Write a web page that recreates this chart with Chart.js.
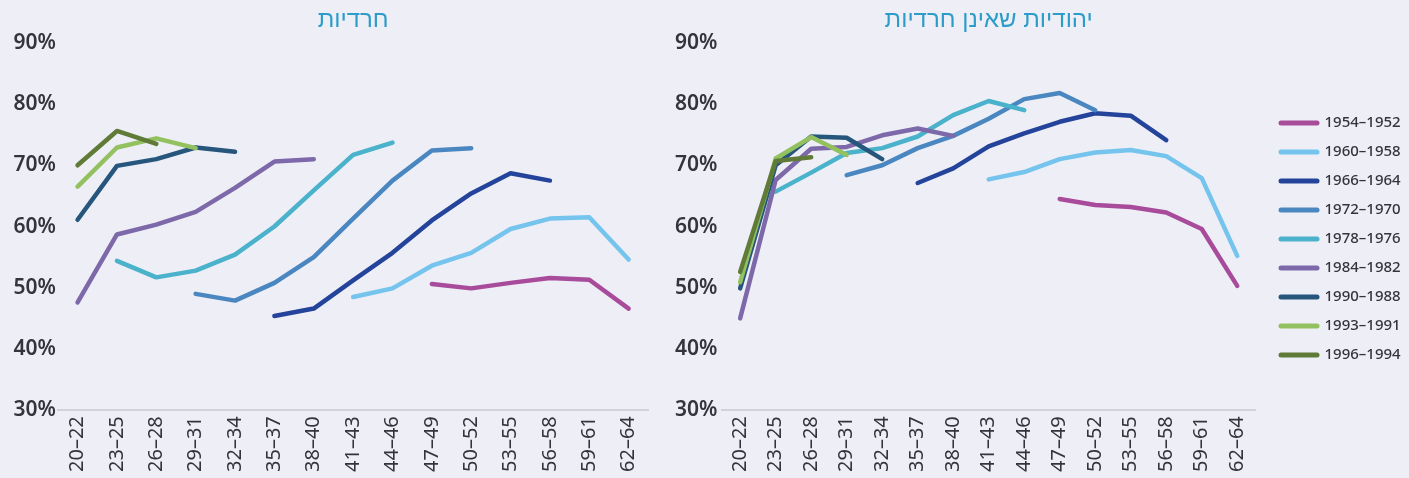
<!DOCTYPE html>
<html lang="he">
<head>
<meta charset="utf-8">
<script src="https://cdn.jsdelivr.net/npm/chart.js@4.4.1/dist/chart.umd.min.js"></script>
<style>
  html, body { margin: 0; padding: 0; background: #eeeef6; }
  #wrap { position: relative; width: 1409px; height: 478px; }
  #wrap canvas { position: absolute; top: 0; }
  #chartLeft { left: 0; }
  #chartRight { left: 655px; }
</style>
</head>
<body>
<div id="wrap">
  <canvas id="chartLeft" width="659" height="478"></canvas>
  <canvas id="chartRight" width="754" height="478"></canvas>
</div>
<script>
// age groups on the x axis
const ageGroups = ["20–22", "23–25", "26–28", "29–31", "32–34", "35–37", "38–40", "41–43",
                   "44–46", "47–49", "50–52", "53–55", "56–58", "59–61", "62–64"];
const cohorts = ["1954–1952", "1960–1958", "1966–1964", "1972–1970", "1978–1976",
                 "1984–1982", "1990–1988", "1993–1991", "1996–1994"];
const cohortColors = ["#a94b9b", "#74c4ed", "#23449a", "#4a87c1", "#4ab2ca",
                      "#7d69a9", "#27567d", "#93c160", "#5f7b37"];
const yTicks = [30, 40, 50, 60, 70, 80, 90];

// חרדיות (percent, one value per age group)
const haredi52 = [null, null, null, null, null, null, null, null, null, 50.6, 49.9, 50.8, 51.6, 51.3, 46.6];
const haredi58 = [null, null, null, null, null, null, null, 48.5, 49.9, 53.6, 55.7, 59.6, 61.3, 61.5, 54.6];
const haredi64 = [null, null, null, null, null, 45.4, 46.6, 51.2, 55.7, 61.0, 65.4, 68.7, 67.5, null, null];
const haredi70 = [null, null, null, 49.0, 47.9, 50.8, 55.0, 61.3, 67.5, 72.4, 72.8, null, null, null, null];
const haredi76 = [null, 54.4, 51.7, 52.8, 55.4, 60.0, 65.9, 71.7, 73.7, null, null, null, null, null, null];
const haredi82 = [47.6, 58.7, 60.3, 62.4, 66.3, 70.6, 71.0, null, null, null, null, null, null, null, null];
const haredi88 = [61.1, 69.9, 71.0, 72.9, 72.2, null, null, null, null, null, null, null, null, null, null];
const haredi91 = [66.5, 72.9, 74.4, 72.8, null, null, null, null, null, null, null, null, null, null, null];
const haredi94 = [70.0, 75.6, 73.5, null, null, null, null, null, null, null, null, null, null, null, null];

// יהודיות שאינן חרדיות
const other52 = [null, null, null, null, null, null, null, null, null, 64.5, 63.5, 63.2, 62.3, 59.6, 50.3];
const other58 = [null, null, null, null, null, null, null, 67.7, 68.9, 71.0, 72.1, 72.5, 71.5, 67.9, 55.2];
const other64 = [null, null, null, null, null, 67.1, 69.5, 73.1, 75.2, 77.1, 78.5, 78.1, 74.1, null, null];
const other70 = [null, null, null, 68.4, 70.0, 72.8, 74.8, 77.6, 80.8, 81.8, 79.0, null, null, null, null];
const other76 = [null, 65.7, 68.8, 72.0, 72.8, 74.7, 78.2, 80.5, 79.0, null, null, null, null, null, null];
const other82 = [45.0, 67.6, 72.7, 73.0, 74.9, 76.0, 74.8, null, null, null, null, null, null, null, null];
const other88 = [49.9, 70.0, 74.7, 74.5, 71.0, null, null, null, null, null, null, null, null, null, null];
const other91 = [50.9, 71.1, 74.6, 71.7, null, null, null, null, null, null, null, null, null, null, null];
const other94 = [52.6, 70.7, 71.3, null, null, null, null, null, null, null, null, null, null, null, null];

const textColor = "#34343e";
const titleColor = "#2c9cc8";
const tickFont = '"Noto Sans", "Open Sans", sans-serif';
const hebFont = '"Liberation Sans", "DejaVu Sans", sans-serif';

function makeDatasets(series) {
    return series.map((values, i) => ({
        label: cohorts[i],
        data: values,
        borderColor: cohortColors[i],
        backgroundColor: cohortColors[i],
        borderWidth: 4.5,
        borderCapStyle: "round",
        borderJoinStyle: "round",
        pointRadius: 0,
        pointHoverRadius: 0,
        tension: 0,
        spanGaps: false,
        order: series.length - i   // later cohorts drawn on top
    }));
}

function makeOptions(title, tickPad, padLeft, padRight, showLegend) {
    return {
        responsive: false,
        animation: false,
        layout: { padding: { left: padLeft, right: padRight, top: 0, bottom: 0 } },
        plugins: {
            title: {
                display: true,
                text: title,
                color: titleColor,
                fullSize: false,
                font: { family: hebFont, size: 24, weight: "normal" },
                padding: { top: 6, bottom: 8 }
            },
            legend: {
                display: showLegend,
                position: "right",
                labels: {
                    usePointStyle: true,
                    pointStyle: "line",
                    pointStyleWidth: 36,
                    padding: 14,
                    color: textColor,
                    font: { family: tickFont, size: 15, weight: "500" },
                    sort: (a, b) => a.datasetIndex - b.datasetIndex,
                    generateLabels(chart) {
                        const items = Chart.defaults.plugins.legend.labels.generateLabels(chart);
                        items.forEach(it => {
                            it.lineCap = "round";
                            it.lineWidth = 5;
                            it.strokeStyle = cohortColors[it.datasetIndex];
                        });
                        return items;
                    }
                }
            },
            tooltip: { enabled: false }
        },
        scales: {
            x: {
                offset: true,
                grid: { display: false, drawTicks: false, tickLength: 0 },
                border: { display: true, color: "#d2d2da", width: 2 },
                ticks: {
                    autoSkip: false,
                    minRotation: 90,
                    maxRotation: 90,
                    padding: 6,
                    color: textColor,
                    font: { family: tickFont, size: 20 }
                }
            },
            y: {
                min: 30,
                max: 90,
                grid: { display: false, drawTicks: false, tickLength: 0 },
                border: { display: false },
                afterBuildTicks(scale) {
                    scale.ticks = yTicks.map(v => ({ value: v }));
                },
                ticks: {
                    padding: tickPad,
                    color: textColor,
                    font: { family: tickFont, size: 21, weight: "600" },
                    callback: v => v + "%"
                }
            }
        }
    };
}

// extra gap between plot and legend
const legendGap = {
    id: "legendGap",
    beforeInit(chart) {
        const fit = chart.legend.fit;
        chart.legend.fit = function () {
            fit.call(this);
            this.width = 154;
        };
    },
    afterLayout(chart) {
        chart.legend.left += 12;
    }
};

const leftChart = new Chart(document.getElementById("chartLeft"), {
    type: "line",
    data: {
        labels: ageGroups,
        datasets: makeDatasets([haredi52, haredi58, haredi64, haredi70, haredi76,
                                haredi82, haredi88, haredi91, haredi94])
    },
    options: makeOptions("חרדיות", 2, 11.5, 3, false)
});

const rightChart = new Chart(document.getElementById("chartRight"), {
    type: "line",
    data: {
        labels: ageGroups,
        datasets: makeDatasets([other52, other58, other64, other70, other76,
                                other82, other88, other91, other94])
    },
    options: makeOptions("יהודיות שאינן חרדיות", 5, 15, 0, true),
    plugins: [legendGap]
});
</script>
</body>
</html>
